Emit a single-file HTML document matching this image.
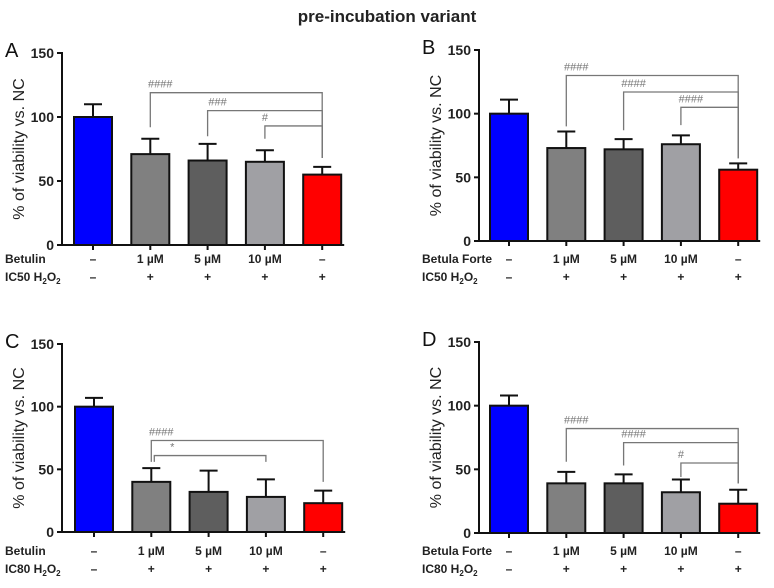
<!DOCTYPE html>
<html><head><meta charset="utf-8"><style>
body{margin:0;background:#fff;width:774px;height:583px;overflow:hidden;font-family:"Liberation Sans",Arial,sans-serif}
svg text{font-family:"Liberation Sans",Arial,sans-serif}
</style></head><body>
<svg id="s" width="774" height="583">
<text x="387" y="22" text-anchor="middle" font-size="17" font-weight="bold" fill="#222">pre-incubation variant</text>
</svg>
<script>
const categories=["–","1 µM","5 µM","10 µM","–"];
const h2o2Row=["–","+","+","+","+"];
const ticks=[0,50,100,150];
const colors=["#0000ff","#808080","#5e5e5e","#a0a0a4","#ff0000"];
const valsA=[100,71,66,65,55]; const errA=[10,12,13,9,6];
const valsB=[100,73,72,76,56]; const errB=[11,13,8,7,5];
const valsC=[100,40,32,28,23]; const errC=[7,11,17,14,10];
const valsD=[100,39,39,32,23]; const errD=[8,9,7,10,11];
// brackets: [fromIdx,toIdx,level,leftDrop,rightDrop,label]
const brA=[[1,4,119,92,68,"####"],[2,4,105,85,68,"###"],[3,4,93,83,68,"#"]];
const brB=[[1,4,130,90,65,"####"],[2,4,117,87,65,"####"],[3,4,105,91,65,"####"]];
const brC=[[1,4,73,56,40,"####"],[1,3,61,56,56,"*"]];
const brD=[[1,4,82,56,39,"####"],[2,4,71,53,39,"####"],[3,4,55,44,39,"#"]];
const panels=[
 {id:"a",letter:"A",ax:62,y0:245,y150:53,cx0:93,vals:valsA,err:errA,br:brA,drug:"Betulin",ic:"IC50",r1:263,r2:281},
 {id:"b",letter:"B",ax:479,y0:241,y150:50,cx0:509,vals:valsB,err:errB,br:brB,drug:"Betula Forte",ic:"IC50",r1:263,r2:281},
 {id:"c",letter:"C",ax:62,y0:532,y150:344,cx0:94,vals:valsC,err:errC,br:brC,drug:"Betulin",ic:"IC80",r1:555,r2:573},
 {id:"d",letter:"D",ax:479,y0:533,y150:342,cx0:509,vals:valsD,err:errD,br:brD,drug:"Betula Forte",ic:"IC80",r1:555,r2:573}];
const S=document.getElementById('s');const NS="http://www.w3.org/2000/svg";
function mk(t,a,p,txt){const e=document.createElementNS(NS,t);for(const k in a)e.setAttribute(k,a[k]);if(txt!=null)e.textContent=txt;p.appendChild(e);return e;}
panels.forEach(P=>{
 const g=mk('g',{},S);
 
 
 const y=v=>P.y0-(v/150)*(P.y0-P.y150);
 const x=i=>P.cx0+i*57.3;
 const bw=38;
 const L=mk('text',{x:P.ax-57,y:P.y150+4,'font-size':20,fill:'#111'},g,P.letter);
 
 
 const T=mk('text',{x:0,y:0,'font-size':16,fill:'#222',transform:`translate(${P.ax-38},${(P.y0+P.y150)/2}) rotate(-90)`,'text-anchor':'middle'},g,"% of viability vs. NC");
 
 
 ticks.forEach(t=>{
  mk('line',{x1:P.ax-5,x2:P.ax,y1:y(t),y2:y(t),stroke:'#111','stroke-width':2},g);
  const tl=mk('text',{x:P.ax-8,y:y(t)+5,'text-anchor':'end','font-size':14,'font-weight':'bold',fill:'#222'},g,t);
  
  
 });
 P.vals.forEach((v,i)=>{
  const cx=x(i);
  mk('line',{x1:cx,x2:cx,y1:y(v),y2:y(v+P.err[i]),stroke:'#111','stroke-width':2},g);
  mk('line',{x1:cx-9,x2:cx+9,y1:y(v+P.err[i]),y2:y(v+P.err[i]),stroke:'#111','stroke-width':2},g);
  const r=mk('rect',{x:cx-bw/2,y:y(v),width:bw,height:P.y0-y(v),fill:colors[i],stroke:'#111','stroke-width':2},g);
  
  
  mk('line',{x1:cx,x2:cx,y1:P.y0,y2:P.y0+5,stroke:'#111','stroke-width':2},g);
  const c1=mk('text',{x:cx,y:P.r1,'text-anchor':'middle','font-size':12,'font-weight':'bold',fill:'#222'},g,categories[i]);
  
  
  const c2=mk('text',{x:cx,y:P.r2,'text-anchor':'middle','font-size':12,'font-weight':'bold',fill:'#222'},g,h2o2Row[i]);
  
  
 });
 mk('line',{x1:P.ax,x2:P.ax,y1:P.y150-1,y2:P.y0,stroke:'#111','stroke-width':2},g);
 mk('line',{x1:P.ax,x2:x(4)+22,y1:P.y0,y2:P.y0,stroke:'#111','stroke-width':2},g);
 const d=mk('text',{x:P.ax-57,y:P.r1,'font-size':12,'font-weight':'bold',fill:'#222'},g,P.drug);
 
 
 const h=mk('text',{x:P.ax-57,y:P.r2,'font-size':12,'font-weight':'bold',fill:'#222'},g);
 
 
 h.innerHTML=P.ic+' H<tspan font-size="8" dy="3">2</tspan><tspan dy="-3">O</tspan><tspan font-size="8" dy="3">2</tspan>';
 P.br.forEach(b=>{
  const x1=x(b[0])+(b[5]=="*"?3:0),x2=x(b[1]),ly=y(b[2]);
  const pl=mk('polyline',{points:`${x1},${y(b[3])} ${x1},${ly} ${x2},${ly} ${x2},${y(b[4])}`,fill:'none',stroke:'#777','stroke-width':1.3},g);
  
  
  const lx=b[5]=="*"?x1+18:x1+(b[5].length>1?10:0);
  const st=mk('text',{x:lx,y:ly-5,'text-anchor':'middle','font-size':11,fill:'#777'},g,b[5]);
  
  
 });
});
</script>
</body></html>
